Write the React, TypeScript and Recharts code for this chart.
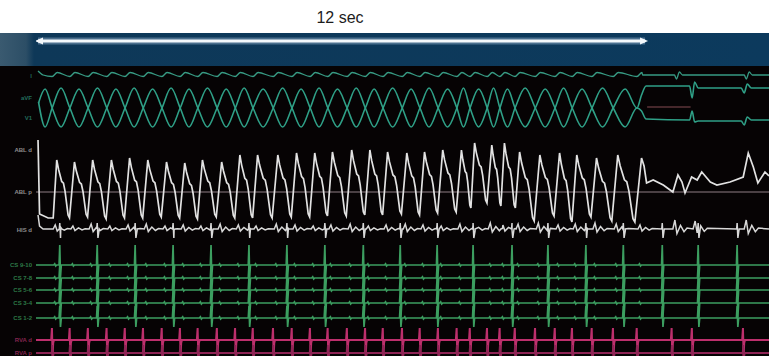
import { LineChart, Line, XAxis, YAxis, ReferenceLine } from 'recharts'

// Time in seconds, amplitudes in channel units (10 px per unit on screen)

// ventricular activations during the tachycardia
const vtBeats = [
  0.28, 0.63, 0.99, 1.36, 1.72, 2.08, 2.45, 2.81, 3.16, 3.54, 3.9, 4.25, 4.65, 5.02, 5.38, 5.73, 6.11,
  6.47, 6.82, 7.2, 7.55, 7.91, 8.28, 8.54, 8.88, 9.13, 9.43, 9.83, 10.22, 10.56, 10.95, 11.37, 11.84,
]
// ventricular complexes after termination
const postBeats = [12.53, 12.93, 13.94]
// atrial activations, dissociated from the ventricle
const atrialBeats = [
  0.43, 1.17, 1.92, 2.67, 3.42, 4.17, 4.92, 5.67, 6.43, 7.16, 7.89, 8.6, 9.37, 10.08, 10.83, 11.57,
  12.34, 13.05, 13.82,
]

// large bipolar electrogram: peak of each complex and the trough that follows it
const vtPeaks = [
  3.2, 3.0, 3.2, 3.2, 3.4, 3.2, 3.0, 2.9, 3.2, 3.0, 3.7, 3.7, 3.7, 3.9, 3.9, 4.0, 4.2, 4.2, 4.0, 3.9,
  4.0, 4.2, 4.2, 4.9, 4.7, 4.9, 4.0, 3.7, 3.9, 3.7, 3.4, 3.7, 3.4,
]
const vtTroughs = [
  -2.6, -2.5, -2.7, -2.6, -2.6, -2.5, -2.6, -2.7, -2.5, -2.6, -2.6, -2.6, -2.5, -2.5, -2.4, -2.4, -2.3,
  -2.3, -2.2, -2.3, -2.1, -2.0, -1.6, -1.1, -1.4, -1.6, -2.9, -2.4, -3.0, -2.5, -2.9, -3.0,
]
// one complex: [fraction of cycle after the peak, fraction of trough-to-peak height]
const complexShape = [
  [0, 1], [0.1, 0.84], [0.28, 0.63], [0.38, 0.6], [0.47, 0.46], [0.64, 0.05], [0.72, 0],
]
const PEAK_LAG = 0.09
const whiteLead = [[0, 5.2], [0.03, -2.2], [0.2, -2.6], [0.3, -2.6]]
const whiteTail = [
  [11.98, 2.6], [12.03, 0.9], [12.16, 1.2], [12.36, 0.7], [12.55, 0.0], [12.65, 1.7], [12.73, 1.0],
  [12.79, -0.1], [12.92, 1.5], [13.03, 1.2], [13.12, 2.0], [13.29, 1.0], [13.42, 0.7], [13.68, 1.0],
  [13.94, 1.5], [14.04, 3.9], [14.14, 2.5], [14.23, 0.9], [14.37, 2.0], [14.45, 1.6],
]

// small far-field deflections on the lower electrogram
const farField = [
  0.4, 0.3, 0.5, 0.3, 0.4, 0.5, 0.3, 0.4, 0.3, 0.5, 0.4, 0.3, 0.5, 0.4, 0.3, 0.4, 0.5, 0.3, 0.4, 0.5,
  0.4, 0.3, 0.5, 0.4, 0.6, 0.4, 0.5, 0.6, 0.4, 0.5, 0.6, 0.5, 0.4,
]
const postFarField = [0.9, 0.8, 0.9]
const farFieldShape = [[0.02, 0], [0.06, 1], [0.1, -0.5], [0.17, 0.4], [0.24, -0.3], [0.3, 0.1]]
const atrialTick = [[-0.01, 0], [0, 0.6], [0.015, -0.9], [0.04, 0]]
const lowerLead = [[0, 1.4], [0.03, 0.3], [0.1, 0]]

// surface leads
const topShape = [[0, -0.15], [0.1, 0.25]]
const topLead = [[0, 0.4], [0.1, 0]]
const topTail = [
  [11.95, 0], [12.58, 0], [12.62, -0.4], [12.68, 0.3], [12.74, 0], [13.96, 0], [14.0, -0.4],
  [14.06, 0.3], [14.12, 0], [14.45, 0],
]
const braidA = { cross: -1.1, top: 0.8, bottom: -3.0 }
const braidB = { cross: 1.2, top: 3.2, bottom: -0.7 }
const braidALead = [[0.01, -0.6], [0.14, 0.8]]
const braidBLead = [[0.01, 1.8], [0.14, -0.7]]
const braidATail = [
  [11.93, 0.2], [12.02, 1.1], [12.88, 1.1], [12.93, -0.1], [12.98, 1.5], [13.05, 0.9], [13.9, 0.9],
  [13.96, 0.4], [14.02, 1.3], [14.1, 0.9], [14.45, 0.9],
]
const braidBTail = [
  [11.93, 0.9], [12.02, 0.1], [12.88, 0], [12.93, 0.9], [12.98, -0.2], [13.05, -0.1], [13.9, -0.1],
  [13.96, -0.5], [14.02, 0.3], [14.1, 0], [14.45, 0],
]
const braidMid = [[12.04, 0], [12.9, 0]]

// coronary sinus bipoles
const csUp = [2.0, 1.3, 1.3, 1.3, 1.2]
const csDown = [1.2, 1.3, 1.3, 1.4, 0.9]
const csBlip = [[0.03, 0], [0.05, 0.12], [0.07, -0.1], [0.09, 0]]

// right ventricular apex
const rvaSpike = [[-0.02, 0], [-0.005, 1.2], [0.008, -1.6], [0.02, -0.3], [0.035, 0]]
const rvaSpike2 = [[-0.01, 0], [0, 0.8], [0.012, -0.5], [0.03, 0]]

const scaleBar = [{ t: 0, v: 0 }, { t: 12, v: 0 }]

type Pt = { t: number; v: number }
const rows = (r: number[][]): Pt[] => r.map(([t, v]) => ({ t, v }))
const at = (times: number[], shape: number[][], gain: (i: number) => number = () => 1): Pt[] =>
  times.flatMap((t0, i) => shape.map(([dt, v]) => ({ t: t0 + dt, v: v * gain(i) })))
const byTime = (p: Pt[]) => [...p].sort((a, b) => a.t - b.t)
const span = (p: Pt[]) => [{ t: -0.04, v: 0 }, ...p, { t: 14.45, v: 0 }]

const whiteWave: Pt[] = rows(whiteLead)
vtBeats.forEach((t0, k) => {
  const peakT = t0 + PEAK_LAG
  if (k === vtBeats.length - 1) {
    whiteWave.push({ t: peakT, v: vtPeaks[k] })
    return
  }
  const cycle = vtBeats[k + 1] - t0
  complexShape.forEach(([f, h]) =>
    whiteWave.push({ t: peakT + f * cycle, v: vtTroughs[k] + h * (vtPeaks[k] - vtTroughs[k]) }),
  )
})
whiteWave.push(...rows(whiteTail))

const lowerWave = byTime([
  ...rows(lowerLead),
  ...at(vtBeats, farFieldShape, (i) => farField[i]),
  ...at(postBeats, farFieldShape, (i) => postFarField[i]),
  ...at(atrialBeats, atrialTick),
  { t: 14.45, v: 0 },
])

const topWave = [...rows(topLead), ...at(vtBeats, topShape), ...rows(topTail)]

const braid = (
  lv: { cross: number; top: number; bottom: number },
  firstTop: boolean,
  lead: number[][],
  tail: number[][],
) => {
  const out = rows(lead)
  vtBeats.forEach((t0, k) => {
    out.push({ t: t0, v: lv.cross })
    if (k < vtBeats.length - 1) {
      const up = (k % 2 === 1) === firstTop
      out.push({ t: (t0 + vtBeats[k + 1]) / 2, v: up ? lv.top : lv.bottom })
    }
  })
  return [...out, ...rows(tail)]
}

const csWave = (ch: number) =>
  span(
    byTime([
      ...at(atrialBeats, [[-0.014, 0], [0, csUp[ch]], [0.014, -csDown[ch]], [0.03, 0]]),
      ...at(vtBeats, csBlip),
    ]),
  )

const allV = [...vtBeats, ...postBeats]

// plot geometry
const T_MIN = -0.04
const T_MAX = 14.45
const PX_PER_UNIT = 10
const PLOT_LEFT = 36
const PLOT_TOP = 66
const PLOT_W = 733
const PLOT_H = 290

const axisDomain = (baseline: number): [number, number] => [
  -(PLOT_TOP + PLOT_H - baseline) / PX_PER_UNIT,
  (baseline - PLOT_TOP) / PX_PER_UNIT,
]

const TEAL = '#2fa087'
const GREEN = '#3c9e60'
const traces = [
  { id: 'top', y: 75, data: topWave, color: '#379a83', width: 1.3, curve: 'monotone' },
  { id: 'mid', y: 107, data: rows(braidMid), color: '#5b3438', width: 1.4, curve: 'linear' },
  { id: 'bA', y: 97, data: braid(braidA, true, braidALead, braidATail), color: TEAL, width: 1.6, curve: 'monotone' },
  { id: 'bB', y: 120, data: braid(braidB, false, braidBLead, braidBTail), color: TEAL, width: 1.6, curve: 'monotone' },
  { id: 'white', y: 192, data: whiteWave, color: '#e2e2e2', width: 1.7, curve: 'linear' },
  { id: 'lower', y: 229, data: lowerWave, color: '#d8d8d8', width: 1.5, curve: 'linear' },
  { id: 'cs1', y: 265, data: csWave(0), color: GREEN, width: 1.7, curve: 'linear' },
  { id: 'cs2', y: 278, data: csWave(1), color: GREEN, width: 1.7, curve: 'linear' },
  { id: 'cs3', y: 290, data: csWave(2), color: GREEN, width: 1.7, curve: 'linear' },
  { id: 'cs4', y: 303, data: csWave(3), color: GREEN, width: 1.7, curve: 'linear' },
  { id: 'cs5', y: 318, data: csWave(4), color: GREEN, width: 1.7, curve: 'linear' },
  { id: 'rva1', y: 340, data: span(byTime(at(allV, rvaSpike))), color: '#bd2f6c', width: 2, curve: 'linear' },
  { id: 'rva2', y: 353, data: span(byTime(at(allV, rvaSpike2))), color: '#8e2455', width: 1.8, curve: 'linear' },
] as const

const labels = [
  { text: 'I', y: 76, color: '#2f8f78' },
  { text: 'aVF', y: 98, color: '#2f9a80' },
  { text: 'V1', y: 118, color: '#2f9a80' },
  { text: 'ABL d', y: 150, color: '#c4c4c4' },
  { text: 'ABL p', y: 192, color: '#c4c4c4' },
  { text: 'HIS d', y: 230, color: '#c4c4c4' },
  { text: 'CS 9-10', y: 265, color: '#3faa63' },
  { text: 'CS 7-8', y: 278, color: '#3faa63' },
  { text: 'CS 5-6', y: 290, color: '#3faa63' },
  { text: 'CS 3-4', y: 303, color: '#3faa63' },
  { text: 'CS 1-2', y: 318, color: '#3faa63' },
  { text: 'RVA d', y: 340, color: '#b8346e' },
  { text: 'RVA p', y: 353, color: '#b8346e' },
]

const arrowHead = (p: any) => {
  const dir = p.index === 0 ? -1 : 1
  const { cx, cy } = p
  return (
    <polygon
      key={`ah-${p.index}`}
      points={`${cx + dir * 3},${cy} ${cx - dir * 5},${cy - 3.5} ${cx - dir * 5},${cy + 3.5}`}
      fill="#f4f8fb"
    />
  )
}

const noMargin = { top: 0, right: 0, bottom: 0, left: 0 }

export default function App() {
  return (
    <div
      style={{
        position: 'absolute',
        left: 0,
        top: 0,
        width: 769,
        height: 356,
        background: '#ffffff',
        overflow: 'hidden',
        fontFamily: '"Liberation Sans", Arial, sans-serif',
      }}
    >
      <div
        style={{
          position: 'absolute',
          left: 290,
          top: 8,
          width: 100,
          textAlign: 'center',
          fontSize: 16,
          lineHeight: '20px',
          color: '#1c1c1c',
        }}
      >
        12 sec
      </div>

      {/* timing band */}
      <div
        style={{
          position: 'absolute',
          left: 0,
          top: 33,
          width: 769,
          height: 33,
          background: 'linear-gradient(90deg, #3a5a70 0px, #2c4e66 26px, #0e3858 34px, #0c3a5d 100%)',
        }}
      />
      <div style={{ position: 'absolute', left: PLOT_LEFT, top: 33 }}>
        <LineChart width={PLOT_W} height={33} margin={noMargin}>
          <XAxis dataKey="t" type="number" domain={[T_MIN, T_MAX]} hide allowDataOverflow />
          <YAxis type="number" domain={[-2.5, 0.8]} hide allowDataOverflow />
          <Line
            data={scaleBar}
            dataKey="v"
            stroke="rgba(190,215,240,0.35)"
            strokeWidth={7}
            dot={false}
            activeDot={false}
            isAnimationActive={false}
          />
          <Line
            data={scaleBar}
            dataKey="v"
            stroke="#f4f8fb"
            strokeWidth={3}
            dot={arrowHead}
            activeDot={false}
            isAnimationActive={false}
          />
        </LineChart>
      </div>

      {/* recording */}
      <div
        style={{ position: 'absolute', left: 0, top: PLOT_TOP, width: 769, height: PLOT_H, background: '#060304' }}
      />
      {labels.map((l) => (
        <div
          key={l.text}
          style={{
            position: 'absolute',
            left: 0,
            width: 32,
            top: l.y - 4,
            textAlign: 'right',
            fontSize: 6,
            lineHeight: '8px',
            fontWeight: 700,
            color: l.color,
            opacity: 0.7,
            whiteSpace: 'nowrap',
          }}
        >
          {l.text}
        </div>
      ))}
      <div style={{ position: 'absolute', left: PLOT_LEFT, top: PLOT_TOP }}>
        <LineChart width={PLOT_W} height={PLOT_H} margin={noMargin}>
          <XAxis dataKey="t" type="number" domain={[T_MIN, T_MAX]} hide allowDataOverflow />
          <YAxis
            yAxisId="frame"
            type="number"
            domain={[0, 1]}
            width={0}
            tick={false}
            tickLine={false}
            axisLine={{ stroke: '#c8c8c8', strokeWidth: 2 }}
          />
          {traces.map((c) => (
            <YAxis
              key={`ax-${c.id}`}
              yAxisId={c.id}
              type="number"
              domain={axisDomain(c.y)}
              hide
              allowDataOverflow
            />
          ))}
          <ReferenceLine yAxisId="white" y={0} stroke="#8d7f83" strokeWidth={1.2} ifOverflow="hidden" />
          {traces.map((c) => (
            <Line
              key={c.id}
              yAxisId={c.id}
              data={c.data as Pt[]}
              dataKey="v"
              type={c.curve}
              stroke={c.color}
              strokeWidth={c.width}
              dot={false}
              activeDot={false}
              isAnimationActive={false}
            />
          ))}
        </LineChart>
      </div>
    </div>
  )
}
